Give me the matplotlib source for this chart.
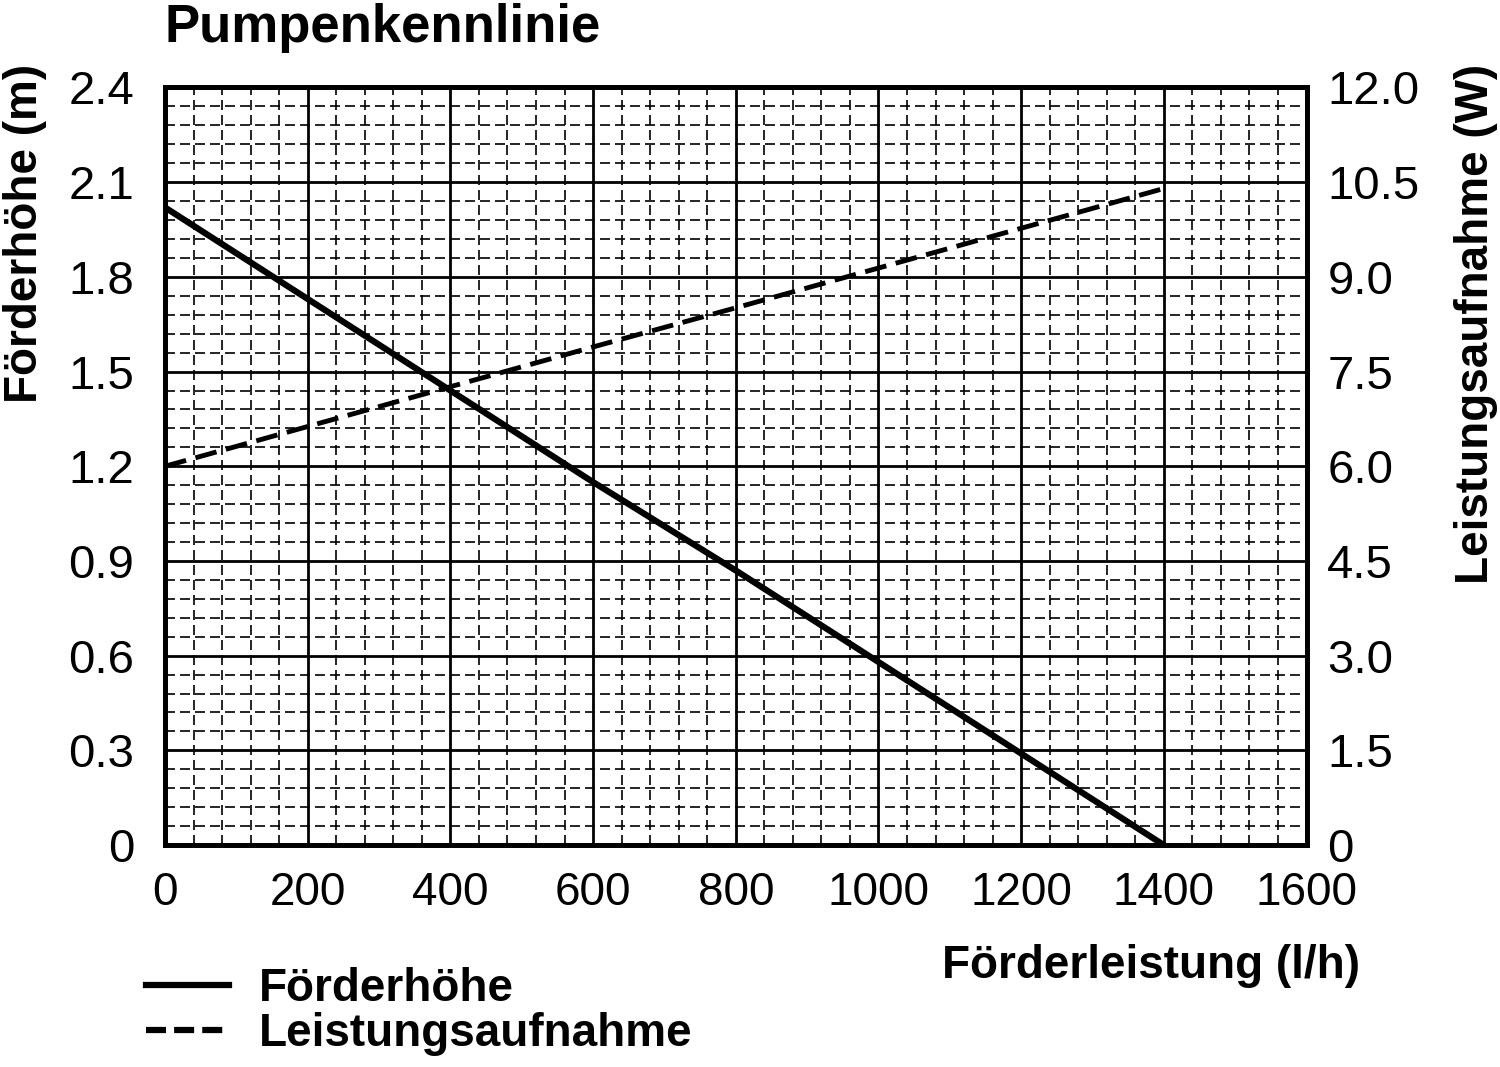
import numpy as np
import matplotlib.pyplot as plt
from matplotlib.ticker import MultipleLocator, FixedLocator
from matplotlib.lines import Line2D

plt.rcParams["font.family"] = ["Liberation Sans", "DejaVu Sans"]

# ===== data =====
flow = [0, 200, 400, 600, 800, 1000, 1200, 1400]          # l/h
head = [2.02, 1.73, 1.44, 1.15, 0.87, 0.58, 0.29, 0.0]     # m
power = [6.0, 6.63, 7.26, 7.89, 8.51, 9.14, 9.77, 10.4]    # W

left_ticks = [0, 0.3, 0.6, 0.9, 1.2, 1.5, 1.8, 2.1, 2.4]
left_labels = ["0", "0.3", "0.6", "0.9", "1.2", "1.5", "1.8", "2.1", "2.4"]
right_ticks = [0, 1.5, 3.0, 4.5, 6.0, 7.5, 9.0, 10.5, 12.0]
right_labels = ["0", "1.5", "3.0", "4.5", "6.0", "7.5", "9.0", "10.5", "12.0"]
x_ticks = [0, 200, 400, 600, 800, 1000, 1200, 1400, 1600]

cond = ["Liberation Sans Narrow", "Liberation Sans", "DejaVu Sans"]

fig = plt.figure(figsize=(15, 10.67), dpi=100)
ax = fig.add_axes([0.11, 0.208, 0.761, 0.710])

# grid
ax.set_xlim(0, 1600)
ax.set_ylim(0, 2.4)
ax.xaxis.set_major_locator(FixedLocator(x_ticks))
ax.yaxis.set_major_locator(FixedLocator(left_ticks))
ax.xaxis.set_minor_locator(MultipleLocator(40))
ax.yaxis.set_minor_locator(MultipleLocator(0.06))
ax.grid(which="minor", color="black", lw=1.2, ls=(0, (6, 3)))
ax.grid(which="major", color="black", lw=2.0, ls="-")
ax.set_axisbelow(True)
for s in ax.spines.values():
    s.set_linewidth(3.5)

ax.set_yticklabels(left_labels)
ax.set_xticklabels([str(v) for v in x_ticks])
ax.tick_params(which="both", length=0)
ax.tick_params(axis="y", labelsize=34, pad=22)
ax.tick_params(axis="x", labelsize=33, pad=19)

ax.plot(flow, head, color="black", lw=4.5, solid_capstyle="round", zorder=5)

ax2 = ax.twinx()
ax2.set_ylim(0, 12)
ax2.yaxis.set_major_locator(FixedLocator(right_ticks))
ax2.set_yticklabels(right_labels)
ax2.tick_params(length=0, labelsize=34, pad=15)
for s in ax2.spines.values():
    s.set_linewidth(3.5)
ax2.plot(flow, power, color="black", lw=3.5, ls=(0, (4.5, 2)), zorder=5)

# texts
fig.text(0.11, 0.997, "Pumpenkennlinie", fontsize=38, fontweight="bold",
         ha="left", va="top")
fig.text(0.002, 0.94, "Förderhöhe (m)", family=cond, fontsize=33,
         fontweight="bold", rotation=90, ha="left", va="top")
fig.text(0.999, 0.94, "Leistungsaufnahme (W)", family=cond, fontsize=33,
         fontweight="bold", rotation=90, ha="right", va="top")
fig.text(0.907, 0.074, "Förderleistung (l/h)", family=cond, fontsize=33,
         fontweight="bold", ha="right", va="bottom")

# legend
handles = [Line2D([], [], color="black", lw=4.5),
           Line2D([], [], color="black", lw=4.5, ls=(0, (3.2, 1.3)))]
fig.legend(handles, ["Förderhöhe", "Leistungsaufnahme"],
           loc="lower left", bbox_to_anchor=(0.07, -0.028), frameon=False,
           handlelength=1.8, handletextpad=0.65, labelspacing=0.02,
           prop={"family": cond, "size": 33, "weight": "bold"})

fig.savefig("out.png", dpi=100)
